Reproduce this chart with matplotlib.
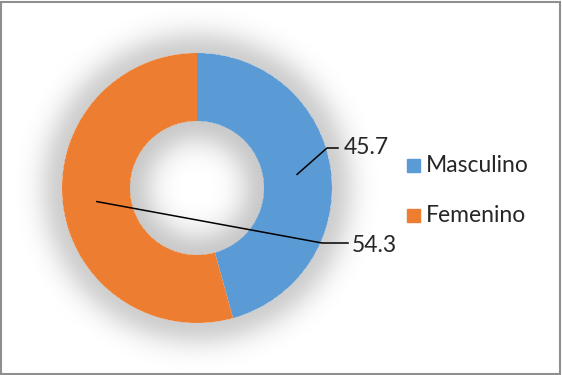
import matplotlib.pyplot as plt
from matplotlib.patches import Rectangle
import numpy as np

categories = ['Masculino', 'Femenino']
values = [45.7, 54.3]
colors = ['#5B9BD5', '#ED7D31']

W, H = 562, 375
cx, cy = 197, 187        # donut centre (pixel units, y up)
r_out, r_in = 135, 67

fig = plt.figure(figsize=(W / 100, H / 100), dpi=100)
ax = fig.add_axes([0, 0, 1, 1])

# soft glow round the ring and inside the hole
yy, xx = np.mgrid[0:H, 0:W] + 0.5
rr = np.hypot(xx - cx, yy - cy)
glow = np.zeros((H, W, 4))
outer = 0.19 * np.exp(-((rr - r_out) / 24.0) ** 2)
inner = 0.21 * np.exp(-((r_in - rr) / 26.0) ** 2)
glow[..., 3] = np.where(rr > r_out, outer, np.where(rr < r_in, inner, 0))
ax.imshow(glow, extent=(0, W, 0, H), origin='lower', zorder=0, interpolation='bilinear')

ax.pie(values, colors=colors, startangle=90, counterclock=False,
       radius=r_out, center=(cx, cy),
       wedgeprops=dict(width=r_out - r_in, linewidth=0), frame=True)

# leader lines from the middle of each segment
r_mid = (r_out + r_in) / 2
start = 0.0
label_pos = [((327, 148), (338, 148), (344, 148)),
             ((322, 243), (348, 243), (352, 245))]
total = sum(values)
for v, (elbow, end, txt) in zip(values, label_pos):
    mid = np.deg2rad((start + v / 2) / total * 360)
    start += v
    ax_, ay_ = cx + r_mid * np.sin(mid), cy + r_mid * np.cos(mid)
    xs = [ax_, elbow[0], end[0]]
    ys = [ay_, H - elbow[1], H - end[1]]
    ax.plot(xs, ys, color='black', lw=1.1, zorder=5)
    ax.text(txt[0], H - txt[1], f'{v:.1f}', fontsize=16.5, family='Lato',
            color='#262626', va='center', ha='left', zorder=6)

# legend
for i, (name, c) in enumerate(zip(categories, colors)):
    y = H - (165 + i * 50)
    ax.add_patch(Rectangle((407, y - 6.5), 13, 13, color=c, zorder=5))
    ax.text(426, y, name, fontsize=16.5, family='Lato', color='#262626',
            va='center', ha='left')

ax.set_xlim(0, W)
ax.set_ylim(0, H)
ax.set_aspect('equal')
ax.axis('off')

fig.patches.append(Rectangle((0.002, 0.003), 0.995, 0.993, transform=fig.transFigure,
                             fill=False, edgecolor='#8f8f8f', lw=1.5))

fig.savefig('out.png', dpi=100)
